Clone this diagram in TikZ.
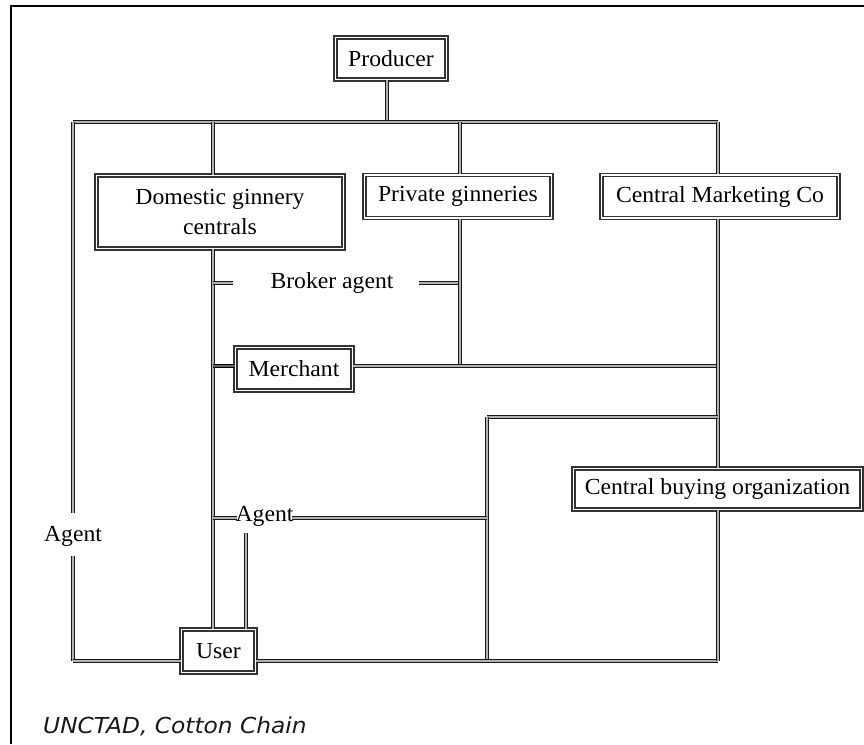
\documentclass[tikz,border=0pt]{standalone}
\usepackage{fontspec}
\setmainfont{Liberation Serif}[FakeStretch=1.03]
\newfontfamily\capfont{DejaVu Sans}[FakeStretch=1.06]
\begin{document}
\begin{tikzpicture}[x=1pt,y=-1pt,
  dline/.style={line width=1.4pt, draw=black!30, preaction={draw=black!90, line width=3.6pt}},
  dlinek/.style={line width=1.2pt, draw=black!60, preaction={draw=black, line width=3.6pt}},
  box/.style={draw=black!80, double=white, double distance=1.3pt, line width=1.4pt,
    fill=white, inner sep=0pt, align=center, font=\fontsize{23}{30}\selectfont},
  lab/.style={inner sep=0pt, font=\fontsize{23}{26}\selectfont}]
\useasboundingbox (0,0) rectangle (864,744);
\fill[white] (0,0) rectangle (864,744);
\draw[line width=1.5pt] (11,744) -- (11,6) -- (864,6);

% junction coordinates
\coordinate (p0) at (387,122);
\coordinate (tl) at (73,122);
\coordinate (tr) at (718,122);
\coordinate (td) at (213,122);
\coordinate (tp) at (460,122);
\coordinate (bl) at (73,661);
\coordinate (br) at (718,661);
\coordinate (bm) at (487,661);
\coordinate (bx) at (487,417);
\coordinate (bxr) at (718,417);
\coordinate (mr) at (718,366);
\coordinate (pm) at (460,366);
\coordinate (ml) at (213,366);
\coordinate (bkl) at (213,283);
\coordinate (bkl2) at (233,283);
\coordinate (bkr) at (419,283);
\coordinate (bkr2) at (460,283);
\coordinate (aml) at (213,518);
\coordinate (aml2) at (237,518);
\coordinate (amr) at (292,518);
\coordinate (amr2) at (487,518);
\coordinate (u2) at (246,533);
\coordinate (al1) at (73,513);
\coordinate (al2) at (73,556);

% boxes
\node[box, minimum width=111, minimum height=42] (prod) at (391,58.5) {Producer};
\node[box, minimum width=247, minimum height=73] (dom) at (220,212) {Domestic ginnery\\centrals};
\node[box, minimum width=187, minimum height=43] (priv) at (458,196.5) {Private ginneries};
\node[box, minimum width=237, minimum height=43] (cmc) at (720,196.5) {Central Marketing Co};
\node[box, minimum width=117, minimum height=43] (merch) at (294,369) {Merchant};
\node[box, minimum width=288, minimum height=41] (cbo) at (717.5,489) {Central buying organization};
\node[box, minimum width=74, minimum height=43] (user) at (218.5,651) {User};

% labels
\node[lab] (broker) at (332,283) {Broker agent};
\node[lab] (agentL) at (73,536) {Agent};
\node[lab] (agentM) at (264.5,516) {Agent};
\node[anchor=base west, inner sep=0pt, font=\capfont\itshape\fontsize{22}{26}\selectfont,
  text=black!90] (cap) at (43,733) {UNCTAD, Cotton Chain};

% connectors
\draw[dline] (p0 |- prod.south) -- (p0);
\draw[dline] (tl) -- (tr);
\draw[dline] (tl) -- (al1);
\draw[dline] (al2) -- (bl);
\draw[dline] (td) -- (td |- dom.north);
\draw[dline] (tp) -- (tp |- priv.north);
\draw[dline] (tr) -- (tr |- cmc.north);
\draw[dline] (td |- dom.south) -- (td |- user.north);
\draw[dline] (bkl) -- (bkl2);
\draw[dline] (bkr) -- (bkr2);
\draw[dline] (tp |- priv.south) -- (pm);
\draw[dlinek] (ml) -- (ml -| merch.west);
\draw[dline] (mr -| merch.east) -- (mr);
\draw[dline] (tr |- cmc.south) -- (tr |- cbo.north);
\draw[dline] (bx) -- (bxr);
\draw[dline] (bx) -- (bm);
\draw[dline] (aml) -- (aml2);
\draw[dline] (amr) -- (amr2);
\draw[dline] (u2) -- (u2 |- user.north);
\draw[dline] (bl) -- (bl -| user.west);
\draw[dline] (bl -| user.east) -- (br);
\draw[dline] (br |- cbo.south) -- (br);
\end{tikzpicture}
\end{document}
